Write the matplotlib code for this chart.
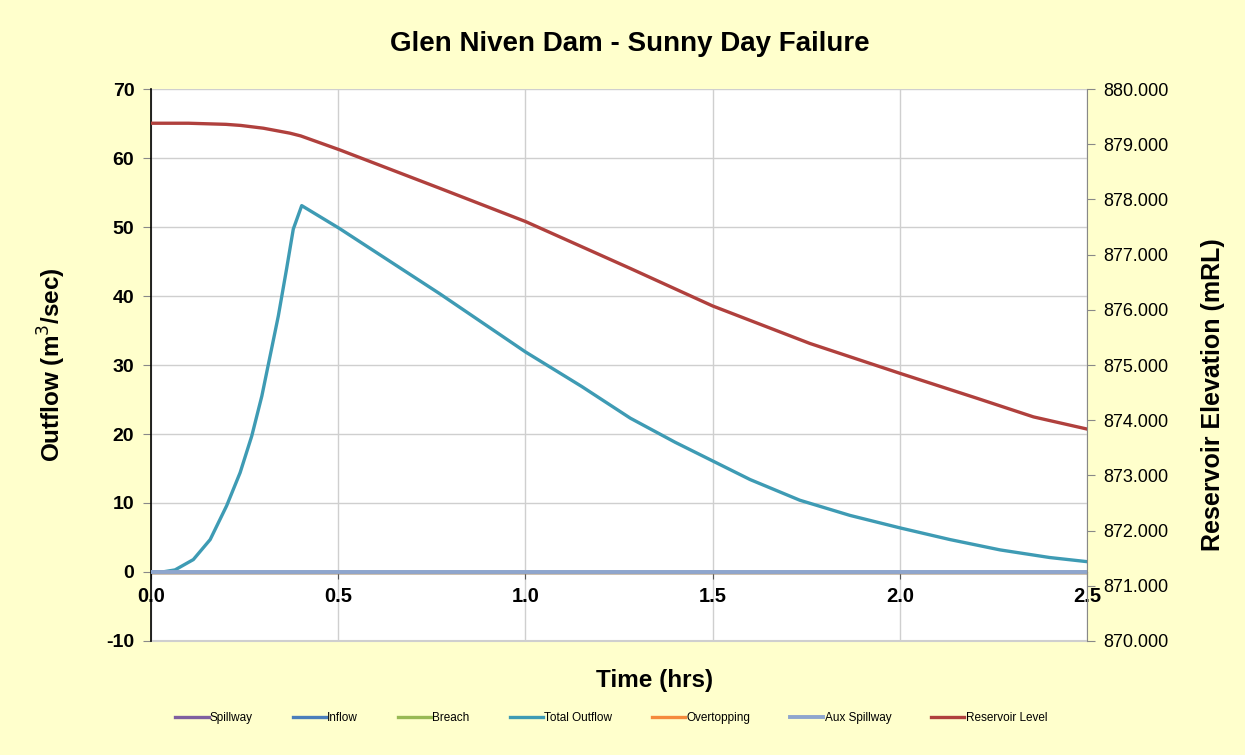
import matplotlib.pyplot as plt

plt.rcParams['font.family'] = ['Liberation Sans', 'DejaVu Sans']
plt.rcParams['axes.unicode_minus'] = False

# time (hrs) and total outflow (m3/sec)
t_out = [0.0, 0.03, 0.064, 0.113, 0.158, 0.202, 0.238, 0.269, 0.296, 0.318,
         0.34, 0.362, 0.38, 0.4025, 0.503, 0.772, 1.0, 1.15, 1.28, 1.4, 1.5,
         1.6, 1.733, 1.867, 2.0, 2.134, 2.268, 2.4, 2.5]
total_outflow = [0.0, 0.0, 0.3, 1.8, 4.7, 9.6, 14.4, 19.7, 25.5, 31.3,
                 37.1, 43.9, 49.7, 53.1, 49.8, 40.3, 31.9, 26.9, 22.3, 18.8,
                 16.1, 13.4, 10.4, 8.2, 6.4, 4.7, 3.2, 2.1, 1.5]

# zero series
t_zero = [0.0, 2.5]
spillway = [0, 0]
inflow = [0, 0]
breach = [0, 0]
overtopping = [0, 0]
aux_spillway = [0, 0]

# reservoir level (mRL)
t_res = [0.0, 0.1, 0.15, 0.2, 0.24, 0.3, 0.371, 0.4, 0.503, 0.772, 1.0, 1.28,
         1.5, 1.76, 2.0, 2.205, 2.357, 2.5]
reservoir = [879.38, 879.38, 879.37, 879.36, 879.34, 879.29, 879.20, 879.15,
             878.90, 878.20, 877.60, 876.75, 876.07, 875.39, 874.85, 874.40,
             874.06, 873.84]

bg = '#FFFFCC'
fig = plt.figure(figsize=(12.45, 7.55), dpi=100, facecolor=bg)
ax = fig.add_axes([0.1213, 0.1510, 0.7518, 0.7311])
ax2 = ax.twinx()

ax.plot(t_zero, spillway, color='#7F5FA0', lw=2.4, label='Spillway')
ax.plot(t_zero, inflow, color='#4A7EBB', lw=2.4, label='Inflow')
ax.plot(t_zero, breach, color='#98B954', lw=2.4, label='Breach')
ax.plot(t_out, total_outflow, color='#3E9BB4', lw=2.4, label='Total Outflow',
        solid_joinstyle='round')
ax.plot(t_zero, overtopping, color='#F58A3C', lw=2.4, label='Overtopping')
ax.plot(t_zero, aux_spillway, color='#8EA6CE', lw=2.8, label='Aux Spillway',
        zorder=5)
ax2.plot(t_res, reservoir, color='#B0403D', lw=2.4, label='Reservoir Level',
         solid_joinstyle='round')

ax.set_xlim(0, 2.5)
ax.set_ylim(-10, 70)
ax2.set_ylim(870, 880)
ax.set_xticks([0, 0.5, 1.0, 1.5, 2.0, 2.5])
ax.set_xticklabels(['0.0', '0.5', '1.0', '1.5', '2.0', '2.5'])
ax.set_yticks(range(-10, 71, 10))
ax2.set_yticks(range(870, 881))
ax2.set_yticklabels(['%.3f' % v for v in range(870, 881)])

ax.grid(True, color='#CFCFCF', lw=1)
ax.set_axisbelow(True)
ax.set_facecolor('white')

ax.spines['top'].set_visible(False)
ax.spines['bottom'].set_position(('data', 0))
ax.spines['bottom'].set_color('#333333')
ax.spines['left'].set_color('black')
ax.spines['left'].set_linewidth(1.2)
ax2.spines['top'].set_visible(False)
ax2.spines['bottom'].set_visible(False)
ax2.spines['left'].set_visible(False)
ax2.spines['right'].set_color('#888888')
ax.spines['right'].set_visible(False)
ax.axhline(-10, color='#CFCFCF', lw=1.5, clip_on=False, zorder=0)

ax.tick_params(axis='x', direction='out', length=5, color='#555555',
               labelsize=14.5, pad=6)
ax.tick_params(axis='y', direction='out', length=6, color='#888888',
               labelsize=14, pad=6)
ax2.tick_params(axis='y', direction='out', length=6, color='#888888',
                labelsize=13, pad=6)
for lbl in ax.get_xticklabels() + ax.get_yticklabels():
    lbl.set_fontweight('bold')

fig.text(0.506, 0.9417, 'Glen Niven Dam - Sunny Day Failure', ha='center',
         va='center', fontsize=20, fontweight='bold')
fig.text(0.526, 0.099, 'Time (hrs)', ha='center', va='center', fontsize=17.5,
         fontweight='bold')
fig.text(0.042, 0.517, 'Outflow (m$^3$/sec)', ha='center', va='center',
         rotation=90, fontsize=17.5, fontweight='bold')
fig.text(0.974, 0.477, 'Reservoir Elevation (mRL)', ha='center', va='center',
         rotation=90, fontsize=18, fontweight='bold')

h1, l1 = ax.get_legend_handles_labels()
h2, l2 = ax2.get_legend_handles_labels()
fig.legend(h1 + h2, l1 + l2, loc='center', bbox_to_anchor=(0.491, 0.049),
           ncol=7, frameon=False, fontsize=8.5, handlelength=2.8,
           handletextpad=0.1, columnspacing=3.4)

fig.savefig('out.png', dpi=100, facecolor=bg)
